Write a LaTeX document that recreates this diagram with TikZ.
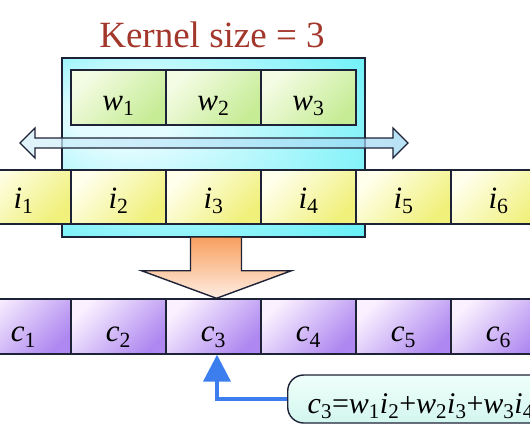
\documentclass[tikz,border=0pt]{standalone}
\usepackage{fontspec}
\setmainfont{Liberation Serif}
\usetikzlibrary{arrows.meta,calc}
\definecolor{titlered}{HTML}{A3372C}
\definecolor{edge}{HTML}{1E2236}
\definecolor{greenL}{HTML}{F4FCE4}
\definecolor{greenD}{HTML}{C6EC96}
\definecolor{yellowL}{HTML}{FFFFEC}
\definecolor{yellowD}{HTML}{F0F07A}
\definecolor{purpleL}{HTML}{FAF0FF}
\definecolor{purpleD}{HTML}{AE88F0}
\definecolor{cyanL}{HTML}{E4FCFF}
\definecolor{cyanD}{HTML}{50EEF6}
\definecolor{dblL}{HTML}{D4F0FA}
\definecolor{dblD}{HTML}{9CD6F2}
\definecolor{orangeD}{HTML}{F8A060}
\definecolor{orangeL}{HTML}{FFEDE2}
\definecolor{arrowblue}{HTML}{3D7EEF}
\definecolor{calloutL}{HTML}{F0FFFB}
\definecolor{calloutD}{HTML}{D2F6EE}
\newcommand{\vsb}[2]{\textit{#1}\textsubscript{#2}}
\pgfdeclareradialshading{cyanglow}{\pgfpoint{-18bp}{10bp}}{color(0bp)=(cyanL); color(8bp)=(cyanL); color(45bp)=(cyanD); color(50bp)=(cyanD)}
\begin{document}
\begin{tikzpicture}[x=1pt,y=-1pt,
  cellbase/.style={draw=edge, line width=1.4pt, inner sep=0pt, minimum width=95pt,
    font=\fontsize{31}{34}\selectfont, text depth=0pt},
  kcell/.style={cellbase, minimum height=55pt, top color=greenL, bottom color=greenD, shading angle=45, text height=25pt},
  icell/.style={cellbase, minimum height=54pt, top color=yellowL, bottom color=yellowD, shading angle=45, text height=22pt},
  ocell/.style={cellbase, minimum height=55pt, top color=purpleL, bottom color=purpleD, shading angle=45, text height=30pt},
  outline/.style={draw=edge, line width=1.4pt, line join=miter},
  callout/.style={draw=edge, line width=1.4pt, rounded corners=16pt, top color=calloutL, bottom color=calloutD,
    minimum height=48pt, inner xsep=20pt, text width=320pt, align=left,
    font=\fontsize{30}{34}\selectfont, text height=28pt, text depth=0pt},
  pointer/.style={draw=arrowblue, line width=4pt, -{Triangle[width=27pt,length=27pt]}}
]
\useasboundingbox (0,0) rectangle (530,442);
\clip (0,0) rectangle (530,442);
\fill[white] (0,0) rectangle (530,442);

% title
\node[text=titlered, font=\fontsize{37}{40}\selectfont, anchor=base] (title) at (212,47) {Kernel size = 3};

% sliding window box
\node[outline, shading=cyanglow, minimum width=303pt, minimum height=179pt, inner sep=0pt] (box) at (213.5,147.5) {};

% kernel cells
\node[kcell] (w1) at (118.5,97.5) {\vsb{w}{1}};
\node[kcell] (w2) at (213.5,97.5) {\vsb{w}{2}};
\node[kcell] (w3) at (308.5,97.5) {\vsb{w}{3}};

% double arrow
\path[outline, left color=dblL, right color=dblD, fill opacity=0.7]
  (20,143) -- (35,128) -- (35,138) -- (393,138) -- (393,128) -- (408,143)
  -- (393,158) -- (393,148) -- (35,148) -- (35,158) -- cycle;

% input cells
\node[icell] (i1) at (23.5,197) {\vsb{i}{1}};
\node[icell] (i2) at (118.5,197) {\vsb{i}{2}};
\node[icell] (i3) at (213.5,197) {\vsb{i}{3}};
\node[icell] (i4) at (308.5,197) {\vsb{i}{4}};
\node[icell] (i5) at (403.5,197) {\vsb{i}{5}};
\node[icell] (i6) at (498.5,197) {\vsb{i}{6}};

% output cells
\node[ocell] (c1) at (23.5,326.5) {\vsb{c}{1}};
\node[ocell] (c2) at (118.5,326.5) {\vsb{c}{2}};
\node[ocell] (c3) at (213.5,326.5) {\vsb{c}{3}};
\node[ocell] (c4) at (308.5,326.5) {\vsb{c}{4}};
\node[ocell] (c5) at (403.5,326.5) {\vsb{c}{5}};
\node[ocell] (c6) at (498.5,326.5) {\vsb{c}{6}};

% big orange arrow from window to c3
\fill[top color=orangeD, bottom color=orangeL]
  ($(box.south)+(-23,0)$) -- ($(box.south)+(-23,33)$) -- ($(box.south)+(-72,33)$)
  -- ($(c3.north)+(3,0)$) -- ($(box.south)+(78,33)$) -- ($(box.south)+(28,33)$)
  -- ($(box.south)+(28,0)$) -- cycle;
\draw[outline]
  ($(box.south)+(-23,0)$) -- ($(box.south)+(-23,33)$) -- ($(box.south)+(-72,33)$)
  -- ($(c3.north)+(3,0)$) -- ($(box.south)+(78,33)$) -- ($(box.south)+(28,33)$)
  -- ($(box.south)+(28,0)$);

% callout
\node[callout, anchor=west] (callout) at (287,399)
  {\vsb{c}{3}=\vsb{w}{1}\vsb{i}{2}+\vsb{w}{2}\vsb{i}{3}+\vsb{w}{3}\vsb{i}{4}};
\draw[pointer] (callout.west) -| ([xshift=3.5pt]c3.south);
\end{tikzpicture}
\end{document}
